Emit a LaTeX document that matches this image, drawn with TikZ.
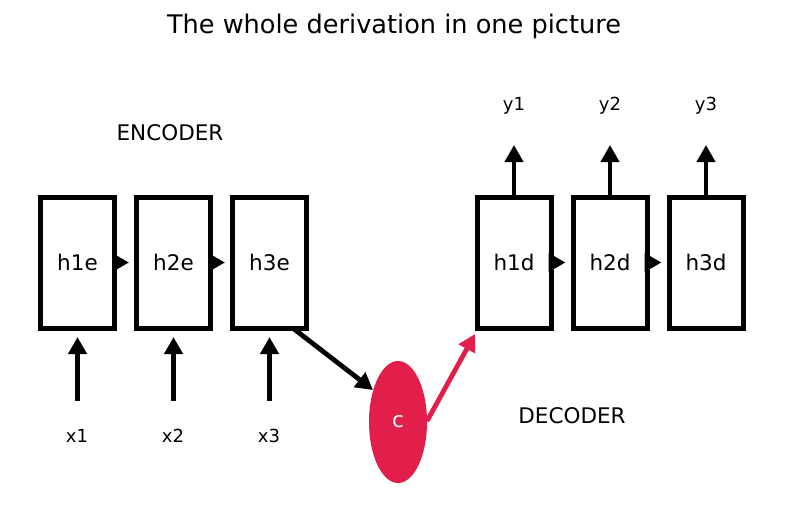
\documentclass[tikz,border=0pt]{standalone}
\usepackage{fontspec}
\setmainfont{DejaVu Sans}
\usetikzlibrary{arrows.meta,shapes.geometric}
\definecolor{crim}{RGB}{226,30,74}
\begin{document}
\begin{tikzpicture}[x=1pt,y=-1pt,
  cell/.style={draw=black,line width=5pt,minimum width=74pt,minimum height=131pt,inner sep=0pt,font=\fontsize{21.5}{25}\selectfont},
  arr/.style={line width=4.8pt,-{Triangle[length=17pt,width=18pt]}},
  small/.style={font=\fontsize{18}{21}\selectfont},
  big/.style={font=\fontsize{21.5}{25}\selectfont}]
\useasboundingbox (0,0) rectangle (787,512);
\node[font=\fontsize{25.6}{30}\selectfont] (title) at (394,26) {The whole derivation in one picture};
\node[big] (enc) at (170,133) {ENCODER};
\node[big] (dec) at (572,416) {DECODER};
\node[cell] (h1e) at (77.5,262.5) {h1e};
\node[cell] (h2e) at (173.5,262.5) {h2e};
\node[cell] (h3e) at (269.5,262.5) {h3e};
\node[cell] (h1d) at (514,262.5) {h1d};
\node[cell] (h2d) at (610,262.5) {h2d};
\node[cell] (h3d) at (706,262.5) {h3d};
\node[small] (x1) at (77,436) {x1};
\node[small] (x2) at (173,436) {x2};
\node[small] (x3) at (269,436) {x3};
\node[small] (y1) at (514,106) {y1};
\node[small] (y2) at (610,106) {y2};
\node[small] (y3) at (706,106) {y3};
\node[ellipse,fill=crim,minimum width=58pt,minimum height=122pt,inner sep=0pt,text=white,font=\fontsize{21.5}{25}\selectfont] (c) at (398,422) {c};
\coordinate (x1s) at (77.5,401);
\coordinate (x2s) at (173.5,401);
\coordinate (x3s) at (269.5,401);
\draw[arr] (x1s) -- ([yshift=-6.5pt]h1e.south);
\draw[arr] (x2s) -- ([yshift=-6.5pt]h2e.south);
\draw[arr] (x3s) -- ([yshift=-6.5pt]h3e.south);
\coordinate (y1t) at (514,145);
\coordinate (y2t) at (610,145);
\coordinate (y3t) at (706,145);
\draw[arr] (h1d.north) -- (y1t);
\draw[arr] (h2d.north) -- (y2t);
\draw[arr] (h3d.north) -- (y3t);
\draw[arr,shorten >=5pt] (h1e.east) -- (h2e.west);
\draw[arr,shorten >=5pt] (h2e.east) -- (h3e.west);
\draw[arr,shorten >=5pt] (h1d.east) -- (h2d.west);
\draw[arr,shorten >=5pt] (h2d.east) -- (h3d.west);
\coordinate (a1) at (294,329);
\coordinate (a2) at (373,390);
\draw[arr] (a1) -- (a2);
\coordinate (b1) at (427,421);
\coordinate (b2) at (475,334);
\draw[arr,draw=crim,fill=crim] (b1) -- (b2);
\end{tikzpicture}
\end{document}
